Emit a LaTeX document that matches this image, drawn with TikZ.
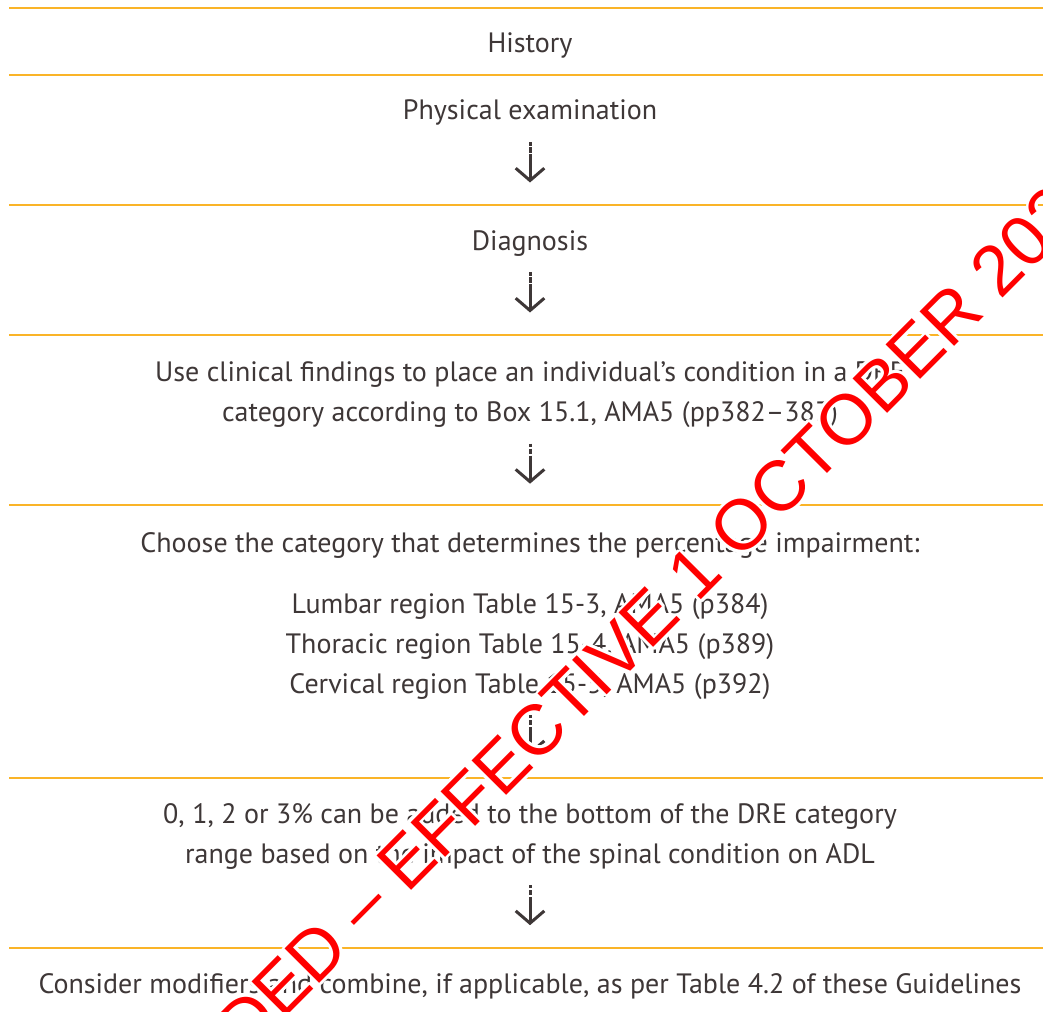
\documentclass[tikz,border=0pt]{standalone}
\usepackage{fontspec}
\setmainfont{PT Sans}
\newfontfamily\wmfont{Liberation Sans}
\definecolor{txt}{RGB}{62,55,55}
\definecolor{rulec}{RGB}{250,180,40}
\definecolor{wmred}{RGB}{255,0,0}
\newcommand\wmdraw[2]{%
  \node[wm, text=#1, anchor=base east, shift={#2}] (wmL) at (wm1) {SUPERSEDED – EFFECTIVE\ \null};
  \node[wm, text=#1, anchor=base west, shift={#2}] (wmR) at (wm1) {1 OCTOBER 2022};}
\begin{document}
\begin{tikzpicture}[x=1pt,y=-1pt,
  lbl/.style={anchor=base, inner sep=0pt, text=txt, font=\fontsize{28}{40}\selectfont},
  sep/.style={draw=rulec, line width=1.5pt},
  flow/.style={draw=txt, line width=3pt, dash pattern=on 3.4pt off 1.6pt on 5.4pt off 1.6pt on 300pt off 0pt},
  head/.style={draw=txt, line width=3pt, line join=miter},
  wm/.style={font=\wmfont\fontsize{71}{80}\selectfont, rotate=45.1, inner sep=0pt}
]
\useasboundingbox[fill=white] (0,0) rectangle (1043,1011);

% separators
\foreach \yy in {8,75,205,335,505,778,948}
  \draw[sep] (9,\yy) -- (1043,\yy);

% texts
\node[lbl] (hist) at (530,53) {History};
\node[lbl] (phys) at (530,120) {Physical examination};
\node[lbl] (diag) at (530,250) {Diagnosis};
\node[lbl] (use1) at (530,381) {Use clinical findings to place an individual’s condition in a DRE};
\node[lbl] (use2) at (530,421.5) {category according to Box 15.1, AMA5 (pp382–383)};
\node[lbl] (choose) at (530,552) {Choose the category that determines the percentage impairment:};
\node[lbl] (lumb) at (530,613) {Lumbar region Table 15-3, AMA5 (p384)};
\node[lbl] (thor) at (530,653) {Thoracic region Table 15-4, AMA5 (p389)};
\node[lbl] (cerv) at (530,693) {Cervical region Table 15-5, AMA5 (p392)};
\node[lbl] (add1) at (530,823) {0, 1, 2 or 3\% can be added to the bottom of the DRE category};
\node[lbl] (add2) at (530,863) {range based on the impact of the spinal condition on ADL};
\node[lbl] (cons) at (530,993) {Consider modifiers and combine, if applicable, as per Table 4.2 of these Guidelines};

% arrows
\foreach \n/\ta/\tb in {1/142.3/180.5, 2/272.3/310.5, 3/443.5/481.7, 4/715/753.2, 5/885/923.2}{
  \coordinate (s\n) at (530,\ta);
  \coordinate (t\n) at (530,\tb);
  \draw[flow] (s\n) -- (t\n);
  \draw[head] ([shift={(-14.3,-12.3)}]t\n) -- (t\n) -- ([shift={(14.3,-12.3)}]t\n);
}

% watermark
\begin{scope}
\clip (0,0) rectangle (1043,1011);
\coordinate (wm1) at (697.4,604.0);
\foreach \a in {0,20,...,340} {\wmdraw{white}{(\a:2.8)}}
\wmdraw{wmred}{(0,0)}
\end{scope}
\end{tikzpicture}
\end{document}
